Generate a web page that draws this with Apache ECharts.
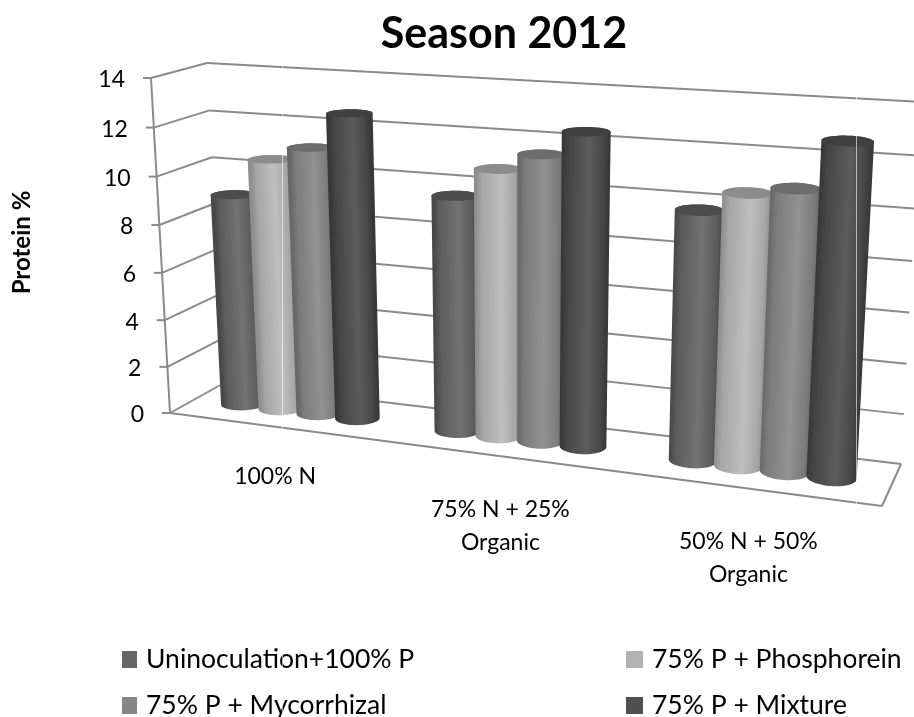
<!DOCTYPE html>
<html>
<head>
<meta charset="utf-8">
<style>html,body{margin:0;padding:0;background:#fff}#chart{width:914px;height:717px}</style>
<script src="https://cdn.jsdelivr.net/npm/echarts@6/dist/echarts.min.js"></script>
</head>
<body>
<div id="chart"></div>
<script>
// Protein % per nitrogen treatment and inoculation, season 2012
const categories = ['100% N', '75% N + 25%\nOrganic', '50% N + 50%\nOrganic'];
const valueTicks = [0, 2, 4, 6, 8, 10, 12, 14];
const seriesNames = ['Uninoculation+100% P', '75% P + Phosphorein', '75% P + Mycorrhizal', '75% P + Mixture'];
const uninoculation = [9.0, 9.7, 9.9];
const phosphorein = [10.6, 10.9, 10.7];
const mycorrhizal = [11.2, 11.6, 11.0];
const mixture = [12.7, 12.6, 12.9];
const seriesValues = [uninoculation, phosphorein, mycorrhizal, mixture];

// Cylinder shades: [body edge, body rim, body highlight, cap, legend key]
const shades = [
  ['#484848', '#5c5c5c', '#727272', '#4c4c4c', '#666666'],
  ['#8e8e8e', '#a6a6a6', '#bfbfbf', '#8c8c8c', '#b2b2b2'],
  ['#686868', '#7c7c7c', '#929292', '#6c6c6c', '#858585'],
  ['#383838', '#464646', '#5c5c5c', '#404040', '#4f4f4f']
];

const FONT = 'Lato, "Open Sans", sans-serif';
const GRID = { left: 170, top: 78, width: 712, height: 335, outerBoundsMode: 'none' };
const BAND_SLOTS = 5.5;      // four cylinders plus the gap, per category
const RADIUS_SCALE = 0.52;   // cylinder radius as a share of its slot
const DEPTH_MID = 0.5;
const DEPTH_RADIUS = 0.2;
const labelDrops = [33, 37, 37];

// Corners of the 3D plot box on screen, as [x, y]
const box = {
  frontLeftLow: [170, 413], frontLeftHigh: [151, 78],
  frontRightLow: [882, 506], frontRightHigh: [904, 128],
  backLeftLow: [224, 383], backLeftHigh: [207, 63],
  backRightLow: [901, 464], backRightHigh: [921, 102]
};
const lerp = (a, b, t) => [a[0] + (b[0] - a[0]) * t, a[1] + (b[1] - a[1]) * t];
const warp = (p, k) => p / (1 + k - k * p);

// u: across the categories, v: up the value axis, d: front to back, all 0..1
function project(u, v, d) {
  const t = warp(u, 0.155), s = warp(v, 0.043);
  const front = lerp(lerp(box.frontLeftLow, box.frontLeftHigh, s), lerp(box.frontRightLow, box.frontRightHigh, s), t);
  const back = lerp(lerp(box.backLeftLow, box.backLeftHigh, s), lerp(box.backRightLow, box.backRightHigh, s), t);
  return lerp(front, back, d);
}
// Pixel positions from the axes, normalised against the grid the chart actually laid out
const toU = (px, cs) => (px - cs.x) / cs.width;
const toV = (py, cs) => (cs.y + cs.height - py) / cs.height;

function convexHull(points) {
  const pts = points.slice().sort((a, b) => a[0] - b[0] || a[1] - b[1]);
  const cross = (o, a, b) => (a[0] - o[0]) * (b[1] - o[1]) - (a[1] - o[1]) * (b[0] - o[0]);
  const walk = list => {
    const out = [];
    for (const p of list) {
      while (out.length >= 2 && cross(out[out.length - 2], out[out.length - 1], p) <= 0) out.pop();
      out.push(p);
    }
    out.pop();
    return out;
  };
  return walk(pts).concat(walk(pts.reverse()));
}

function ring(uc, ru, v) {
  const pts = [];
  for (let i = 0; i < 48; i++) {
    const a = i / 48 * Math.PI * 2;
    pts.push(project(uc + ru * Math.cos(a), v, DEPTH_MID + DEPTH_RADIUS * Math.sin(a)));
  }
  return pts;
}

function cylinder(seriesIndex) {
  return function (params, api) {
    const cs = params.coordSys;
    const pos = api.coord([api.value(0), api.value(1)]);
    const slot = api.size([1, 0])[0] / BAND_SLOTS;
    const uc = toU(pos[0] + (seriesIndex - 1.5) * slot, cs);
    const ru = (slot / cs.width) * RADIUS_SCALE;
    const v = toV(pos[1], cs);
    const top = ring(uc, ru, v);
    const base = ring(uc, ru, 0);
    const c = shades[seriesIndex];

    // Shade across the cylinder, perpendicular to its leaning axis
    const a = project(uc, 0, DEPTH_MID), b = project(uc, v, DEPTH_MID);
    const mid = lerp(a, b, 0.5);
    const len = Math.hypot(b[0] - a[0], b[1] - a[1]);
    const nx = (a[1] - b[1]) / len, ny = (b[0] - a[0]) / len;
    const half = (project(uc + ru, v / 2, DEPTH_MID)[0] - project(uc - ru, v / 2, DEPTH_MID)[0]) / 2;
    const gradient = new echarts.graphic.LinearGradient(
      mid[0] - nx * half, mid[1] - ny * half, mid[0] + nx * half, mid[1] + ny * half,
      [
        { offset: 0, color: c[0] }, { offset: 0.14, color: c[1] },
        { offset: 0.58, color: c[2] }, { offset: 0.88, color: c[1] }, { offset: 1, color: c[0] }
      ], true);

    return {
      type: 'group',
      children: [
        { type: 'polygon', shape: { points: convexHull(top.concat(base)) }, style: { fill: gradient } },
        { type: 'polygon', shape: { points: top }, style: { fill: c[3] } }
      ]
    };
  };
}

const LINE = { stroke: '#8a8a8a', lineWidth: 2 };
const seg = (p, q) => ({
  type: 'line',
  shape: { x1: p[0], y1: p[1], x2: q[0], y2: q[1] },
  style: LINE
});

// Walls, floor, tick marks and value labels for one value-axis tick
function frameTick(params, api) {
  const val = api.value(1);
  const v = toV(api.coord([0, val])[1], params.coordSys);
  const fl = project(0, v, 0), bl = project(0, v, 1), br = project(1, v, 1);
  const tickEnd = [fl[0] - 8, fl[1]];
  const children = [
    seg(fl, bl), seg(bl, br), seg(tickEnd, fl),
    {
      type: 'text',
      style: {
        x: tickEnd[0] - 18, y: fl[1] + 2, text: String(val),
        align: 'right', verticalAlign: 'middle',
        font: '23px ' + FONT, fill: '#000'
      }
    }
  ];
  if (val === 0) {
    const fr = project(1, 0, 0);
    children.push(seg(fl, fr), seg(fr, br), seg(fl, project(0, 1, 0)));
  }
  return { type: 'group', children };
}

// Category captions hang below the front edge of the floor
function categoryLabel(params, api) {
  const px = api.coord([api.value(0), 0])[0];
  const p = project(toU(px, params.coordSys), 0, 0);
  return {
    type: 'text',
    style: {
      x: p[0], y: p[1] + labelDrops[params.dataIndex], text: categories[params.dataIndex],
      align: 'center', verticalAlign: 'top', lineHeight: 33,
      font: '23px ' + FONT, fill: '#000'
    }
  };
}

// One legend box per key so the rows and columns can be placed independently
const legendKey = (name, left, top, keyWidth) => ({
  left, top, data: [name], itemWidth: keyWidth, itemHeight: 17,
  symbolKeepAspect: false, selectedMode: false, icon: 'rect',
  textStyle: { fontSize: 26.5, fontFamily: FONT, color: '#000', padding: [0, 0, 0, 4] }
});

const chart = echarts.init(document.getElementById('chart'), null, { renderer: 'canvas' });
chart.setOption({
  animation: false,
  backgroundColor: '#fff',
  title: {
    text: 'Season 2012', left: 499, top: 8, textAlign: 'center',
    textStyle: { fontSize: 43, fontWeight: 'bold', fontFamily: FONT, color: '#000' }
  },
  legend: [
    legendKey(seriesNames[0], 117, 641, 15),
    legendKey(seriesNames[2], 117, 687, 15),
    legendKey(seriesNames[1], 621, 641, 17),
    legendKey(seriesNames[3], 621, 687, 17)
  ],
  grid: GRID,
  xAxis: { type: 'category', data: categories, show: false },
  yAxis: {
    type: 'value', min: 0, max: 14, interval: 2,
    name: 'Protein %', nameLocation: 'middle', nameGap: 136, nameRotate: 90,
    nameTextStyle: { fontSize: 24, fontWeight: 'bold', fontFamily: FONT, color: '#000', padding: [0, 0, 0, 6] },
    axisLine: { show: false }, axisTick: { show: false },
    axisLabel: { show: false }, splitLine: { show: false }
  },
  series: [
    {
      type: 'custom', silent: true, z: 1, clip: false,
      data: valueTicks.map(t => [0, t]),
      renderItem: frameTick
    },
    {
      type: 'custom', silent: true, z: 1, clip: false,
      data: categories.map((c, i) => [i, 0]),
      renderItem: categoryLabel
    }
  ].concat(seriesNames.map((name, i) => ({
    type: 'custom', name, silent: true, z: 2, clip: false,
    itemStyle: { color: shades[i][4] },
    data: seriesValues[i].map((val, k) => [k, val]),
    renderItem: cylinder(i)
  }))),
  // Thin pale seams running down the plot
  graphic: [282, 856].map(x => ({
    type: 'line', z: 50, silent: true,
    shape: { x1: x + 0.5, y1: 0, x2: x + 0.5, y2: 717 },
    style: { stroke: 'rgba(255,255,255,0.6)', lineWidth: 1 }
  }))
});
</script>
</body>
</html>
